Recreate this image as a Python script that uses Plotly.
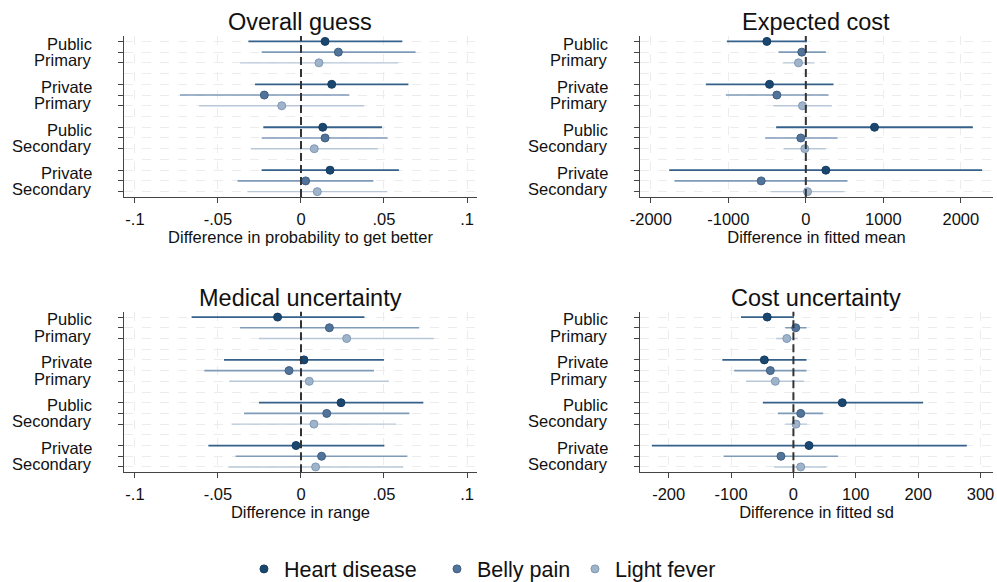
import plotly.graph_objects as go

groups_top = ["Public", "Private", "Public", "Private"]
groups_bottom = ["Primary", "Primary", "Secondary", "Secondary"]
series = ["Heart disease", "Belly pain", "Light fever"]

# Overall guess: estimates and CI per series (order of groups)
og_est = {"Heart disease": [0.0145, 0.0185, 0.0131, 0.0175],
          "Belly pain": [0.0225, -0.0221, 0.0145, 0.0028],
          "Light fever": [0.0108, -0.0116, 0.0080, 0.0098]}
og_lo = {"Heart disease": [-0.0317, -0.0277, -0.0227, -0.0237],
         "Belly pain": [-0.0237, -0.0729, -0.0237, -0.0382],
         "Light fever": [-0.0367, -0.0614, -0.0301, -0.0323]}
og_hi = {"Heart disease": [0.0610, 0.0647, 0.0488, 0.0590],
         "Belly pain": [0.0690, 0.0291, 0.0522, 0.0436],
         "Light fever": [0.0586, 0.0380, 0.0462, 0.0520]}

# Expected cost
ec_est = {"Heart disease": [-503, -469, 886, 258],
          "Belly pain": [-52, -374, -65, -576],
          "Light fever": [-95, -43, -13, 22]}
ec_lo = {"Heart disease": [-1019, -1290, -383, -1763],
         "Belly pain": [-353, -1032, -525, -1695],
         "Light fever": [-297, -417, -288, -452]}
ec_hi = {"Heart disease": [13, 357, 2155, 2275],
         "Belly pain": [258, 292, 409, 538],
         "Light fever": [112, 335, 258, 495]}

# Medical uncertainty
mu_est = {"Heart disease": [-0.0141, 0.0018, 0.0241, -0.0030],
          "Belly pain": [0.0171, -0.0072, 0.0155, 0.0124],
          "Light fever": [0.0275, 0.0050, 0.0078, 0.0088]}
mu_lo = {"Heart disease": [-0.0659, -0.0464, -0.0253, -0.0558],
         "Belly pain": [-0.0367, -0.0582, -0.0343, -0.0394],
         "Light fever": [-0.0253, -0.0432, -0.0418, -0.0438]}
mu_hi = {"Heart disease": [0.0382, 0.0500, 0.0737, 0.0502],
         "Belly pain": [0.0711, 0.0440, 0.0653, 0.0641],
         "Light fever": [0.0801, 0.0530, 0.0572, 0.0616]}

# Cost uncertainty
cu_est = {"Heart disease": [-42, -46.6, 78.4, 25],
          "Belly pain": [3.7, -37, 11.7, -20],
          "Light fever": [-10.6, -29, 4.2, 11.7]}
cu_lo = {"Heart disease": [-84, -114, -49, -227],
         "Belly pain": [-13, -95, -25, -112],
         "Light fever": [-27.6, -76, -13, -31]}
cu_hi = {"Heart disease": [1, 21, 208, 278],
         "Belly pain": [21, 21, 47.7, 71.5],
         "Light fever": [7, 17, 22, 53]}

panels = [
    ("Overall guess", "Difference in probability to get better", og_est, og_lo, og_hi,
     [-0.1, -0.05, 0, 0.05, 0.1], ["-.1", "-.05", "0", ".05", ".1"], [-0.1066, 0.106]),
    ("Expected cost", "Difference in fitted mean", ec_est, ec_lo, ec_hi,
     [-2000, -1000, 0, 1000, 2000], ["-2000", "-1000", "0", "1000", "2000"], [-2140, 2415]),
    ("Medical uncertainty", "Difference in range", mu_est, mu_lo, mu_hi,
     [-0.1, -0.05, 0, 0.05, 0.1], ["-.1", "-.05", "0", ".05", ".1"], [-0.1066, 0.106]),
    ("Cost uncertainty", "Difference in fitted sd", cu_est, cu_lo, cu_hi,
     [-200, -100, 0, 100, 200, 300], ["-200", "-100", "0", "100", "200", "300"], [-246, 320]),
]

marker_colors = {"Heart disease": "#1a476f", "Belly pain": "#52739a", "Light fever": "#9fb4cb"}
marker_lines = {"Heart disease": "#163d60", "Belly pain": "#3f5f82", "Light fever": "#7f98b4"}
line_colors = {"Heart disease": "#34608a", "Belly pain": "#7f9bb8", "Light fever": "#b9c8d9"}
line_widths = {"Heart disease": 1.8, "Belly pain": 1.6, "Light fever": 1.4}
legend_ids = {"Heart disease": "legend", "Belly pain": "legend2", "Light fever": "legend3"}
legend_x = {"legend": 0.2447, "legend2": 0.4383, "legend3": 0.5767}

x_domains = [[0.1244, 0.4784], [0.6419, 0.996], [0.1244, 0.4784], [0.6419, 0.996]]
y_domains = [[0.6615, 0.9381], [0.6615, 0.9381], [0.1885, 0.4644], [0.1885, 0.4644]]

font = "Liberation Sans, Arial, sans-serif"
fig = go.Figure()
layout = {}
annotations = []
shapes = []

for i, (title, xtitle, est, lo, hi, tv, tt, xr) in enumerate(panels):
    n = i + 1
    xa = "x" if n == 1 else f"x{n}"
    ya = "y" if n == 1 else f"y{n}"
    xkey = "xaxis" if n == 1 else f"xaxis{n}"
    ykey = "yaxis" if n == 1 else f"yaxis{n}"
    for s_i, s in enumerate(series):
        ys = [g * 4 + s_i for g in range(len(groups_top))]
        fig.add_trace(go.Scatter(
            x=est[s], y=ys, mode="markers", xaxis=xa, yaxis=ya,
            name=s, legendgroup=s, showlegend=(i == 0), legend=legend_ids[s],
            marker=dict(size=8, color=marker_colors[s],
                        line=dict(color=marker_lines[s], width=1)),
            error_x=dict(type="data", symmetric=False,
                         array=[h - e for h, e in zip(hi[s], est[s])],
                         arrayminus=[e - l for e, l in zip(est[s], lo[s])],
                         color=line_colors[s], thickness=line_widths[s], width=0),
        ))
    all_rows = [g * 4 + s_i for g in range(len(groups_top)) for s_i in range(len(series))]
    layout[xkey] = dict(
        domain=x_domains[i], anchor=ya, range=xr,
        tickmode="array", tickvals=tv, ticktext=tt,
        ticks="outside", ticklen=5, tickcolor="#444", tickwidth=1,
        ticklabelstandoff=2,
        showline=True, linecolor="#444", linewidth=1.3,
        showgrid=True, gridcolor="#ececec", griddash="dash", gridwidth=1,
        zeroline=False,
        tickfont=dict(size=16.5, color="#111", family=font),
        title=dict(text=xtitle, font=dict(size=16.5, color="#111", family=font), standoff=0),
    )
    layout[ykey] = dict(
        domain=y_domains[i], anchor=xa, range=[14.5, -0.5],
        tickmode="array", tickvals=all_rows, showticklabels=False,
        ticks="outside", ticklen=5, tickcolor="#444", tickwidth=1,
        showline=True, linecolor="#444", linewidth=1.3,
        showgrid=False, zeroline=False,
        minor=dict(tickmode="linear", tick0=0, dtick=1, showgrid=True,
                   gridcolor="#ececec", griddash="dash", gridwidth=1, ticks=""),
    )
    # two-line group labels on the left of each panel
    for g in range(len(groups_top)):
        for txt, pos in ((groups_top[g], g * 4 + 0.22), (groups_bottom[g], g * 4 + 1.75)):
            annotations.append(dict(text=txt, xref=f"{xa} domain", yref=ya, x=0, y=pos,
                                    xanchor="right", yanchor="middle", xshift=-31,
                                    showarrow=False, borderpad=0,
                                    font=dict(size=16.5, color="#111", family=font)))
    shapes.append(dict(type="line", xref=xa, yref=f"{ya} domain", x0=0, x1=0, y0=0, y1=1,
                       line=dict(color="#333", width=2, dash="8px,4px"), layer="above"))
    annotations.append(dict(text=title, xref=f"{xa} domain", yref=f"{ya} domain",
                            x=0.5, y=1.0, yshift=-1, xanchor="center", yanchor="bottom",
                            showarrow=False, font=dict(size=23.5, color="#111", family=font)))

legend_common = dict(orientation="h", y=0.0225, xanchor="left", yanchor="middle",
                     font=dict(size=21.5, color="#111", family=font),
                     itemsizing="trace", itemwidth=30, bgcolor="rgba(0,0,0,0)")

fig.update_layout(
    **layout,
    width=997, height=582,
    margin=dict(l=0, r=0, t=0, b=0, autoexpand=False),
    paper_bgcolor="white", plot_bgcolor="white",
    shapes=shapes, annotations=annotations,
    legend=dict(x=legend_x["legend"], **legend_common),
    legend2=dict(x=legend_x["legend2"], **legend_common),
    legend3=dict(x=legend_x["legend3"], **legend_common),
    showlegend=True,
)

fig.write_html("out.html")
